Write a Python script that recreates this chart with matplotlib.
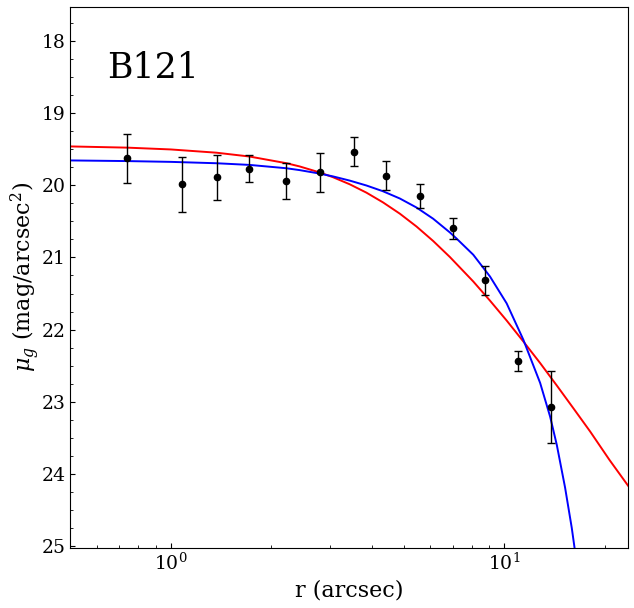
import matplotlib
matplotlib.use("Agg")
import matplotlib.pyplot as plt
from matplotlib.ticker import MultipleLocator

plt.rcParams["font.family"] = "DejaVu Serif"
plt.rcParams["mathtext.fontset"] = "dejavuserif"

# observed profile
r_obs = [0.740, 1.083, 1.379, 1.721, 2.208, 2.792, 3.532, 4.407, 5.575, 7.003, 8.738, 10.98, 13.79]
mu_obs = [19.63, 19.99, 19.89, 19.77, 19.94, 19.82, 19.54, 19.87, 20.15, 20.60, 21.32, 22.43, 23.07]
mu_err = [0.34, 0.38, 0.31, 0.19, 0.25, 0.27, 0.20, 0.20, 0.17, 0.14, 0.20, 0.14, 0.50]

# fitted profiles
r_red = [0.497, 0.740, 1.0, 1.370, 1.721, 2.218, 2.432, 2.792, 3.061, 3.436, 3.857, 4.325,
         4.857, 5.450, 6.113, 6.861, 8.060, 9.049, 10.15, 11.39, 12.79, 14.35, 16.09, 18.06,
         20.64, 23.54]
mu_red = [19.464, 19.481, 19.506, 19.551, 19.604, 19.696, 19.741, 19.824, 19.890, 19.988, 20.104, 20.239,
          20.395, 20.573, 20.773, 20.995, 21.333, 21.599, 21.874, 22.164, 22.463, 22.774, 23.089, 23.410,
          23.804, 24.169]

r_blue = [0.497, 0.740, 1.0, 1.370, 1.721, 2.218, 2.432, 2.792, 3.061, 3.436, 3.857, 4.325,
          4.857, 5.450, 6.113, 6.861, 7.186, 8.060, 9.049, 10.15, 11.39, 12.79, 13.70, 14.35,
          15.19, 15.91, 16.28]
mu_blue = [19.658, 19.667, 19.678, 19.697, 19.720, 19.766, 19.792, 19.840, 19.879, 19.937, 20.005, 20.085,
           20.185, 20.310, 20.465, 20.655, 20.740, 20.963, 21.265, 21.636, 22.140, 22.738, 23.203, 23.597,
           24.185, 24.745, 25.075]

fig = plt.figure(figsize=(6.34, 6.08), dpi=100)
ax = fig.add_axes([0.111, 0.099, 0.880, 0.890])

ax.plot(r_red, mu_red, color="red", lw=1.4)
ax.plot(r_blue, mu_blue, color="blue", lw=1.4)
ax.errorbar(r_obs, mu_obs, yerr=mu_err, fmt="o", color="black", ms=4.5,
            elinewidth=1, capsize=3, capthick=1)

ax.set_xscale("log")
ax.set_xlim(0.5, 23.5)
ax.set_ylim(25.02, 17.53)
ax.yaxis.set_major_locator(MultipleLocator(1))
ax.yaxis.set_minor_locator(MultipleLocator(0.25))
ax.tick_params(which="both", direction="in", labelsize=13.5)

ax.set_xlabel("r (arcsec)", fontsize=16)
ax.set_ylabel(r"$\mu_g$ (mag/arcsec$^2$)", fontsize=16, labelpad=0)
ax.text(0.645, 18.385, "B121", fontsize=25, va="center", ha="left")

fig.savefig("out.png", dpi=100)
